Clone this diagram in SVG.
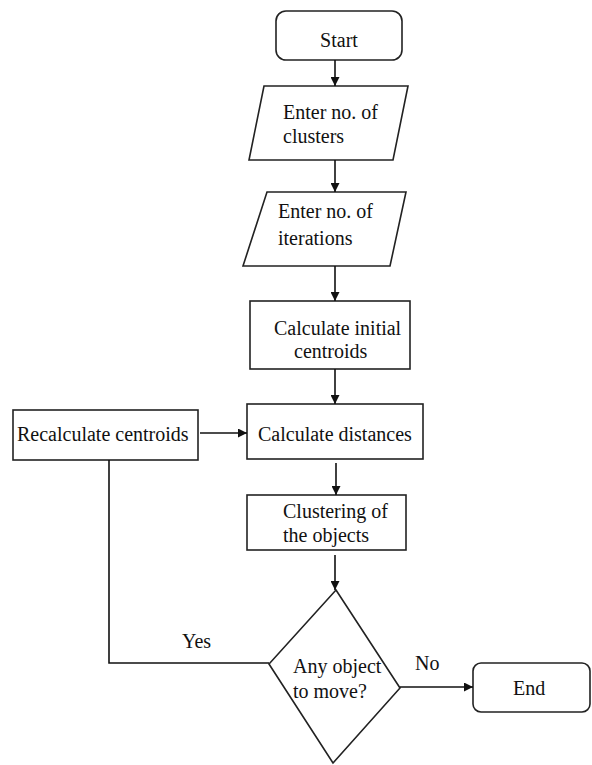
<svg xmlns="http://www.w3.org/2000/svg" width="592" height="765" viewBox="0 0 592 765" font-family="Liberation Serif, Times New Roman, DejaVu Serif, serif">
<defs>
<marker id="ah" viewBox="0 0 10 10" refX="10" refY="5" markerWidth="10" markerHeight="9" markerUnits="userSpaceOnUse" orient="auto">
<path d="M0,0 L10,5 L0,10 z" fill="#111"/>
</marker>
<style>
.s{fill:#fff;stroke:#222;stroke-width:1.6}
.c{fill:none;stroke:#111;stroke-width:1.6}
.t{font-size:20px;fill:#111}
</style>
</defs>
<rect width="592" height="765" fill="#fff"/>
<g id="start"><rect class="s" x="276" y="11" width="126" height="49" rx="10"/><text class="t" x="339" y="47" text-anchor="middle">Start</text></g>
<g id="input-clusters"><polygon class="s" points="264,86 408,86 393,160 249,160"/><text class="t" x="283" y="119">Enter no. of</text><text class="t" x="283" y="143">clusters</text></g>
<g id="input-iterations"><polygon class="s" points="267,192 406,192 390,266 243,266"/><text class="t" x="278" y="218">Enter no. of</text><text class="t" x="278" y="245">iterations</text></g>
<g id="init-centroids"><rect class="s" x="250" y="301" width="160" height="68"/><text class="t" x="274" y="335">Calculate initial</text><text class="t" x="294" y="358">centroids</text></g>
<g id="distances"><rect class="s" x="247" y="404" width="176" height="55"/><text class="t" x="258" y="441">Calculate distances</text></g>
<g id="recalc"><rect class="s" x="13" y="410" width="185" height="50"/><text class="t" x="17" y="441">Recalculate centroids</text></g>
<g id="clustering"><rect class="s" x="247" y="495" width="159" height="55"/><text class="t" x="283" y="518">Clustering of</text><text class="t" x="283" y="542">the objects</text></g>
<g id="decision"><polygon class="s" points="336,590 400,688 333,763 269,664"/><text class="t" x="293" y="673">Any object</text><text class="t" x="293" y="698">to move?</text></g>
<g id="end"><rect class="s" x="473" y="663" width="117" height="49" rx="8"/><text class="t" x="513" y="695">End</text></g>
<g id="connectors">
<line class="c" x1="335" y1="60" x2="335" y2="86" marker-end="url(#ah)"/>
<line class="c" x1="335" y1="160" x2="335" y2="192" marker-end="url(#ah)"/>
<line class="c" x1="335" y1="266" x2="335" y2="301" marker-end="url(#ah)"/>
<line class="c" x1="335" y1="369" x2="335" y2="404" marker-end="url(#ah)"/>
<line class="c" x1="200" y1="433" x2="247" y2="433" marker-end="url(#ah)"/>
<line class="c" x1="336" y1="463" x2="336" y2="495" marker-end="url(#ah)"/>
<line class="c" x1="335" y1="555" x2="335" y2="590" marker-end="url(#ah)"/>
<polyline class="c" points="269,663 109,663 109,460"/>
<line class="c" x1="400" y1="687" x2="473" y2="687" marker-end="url(#ah)"/>
<text class="t" x="182" y="648">Yes</text>
<text class="t" x="415" y="670">No</text>
</g>
</svg>
